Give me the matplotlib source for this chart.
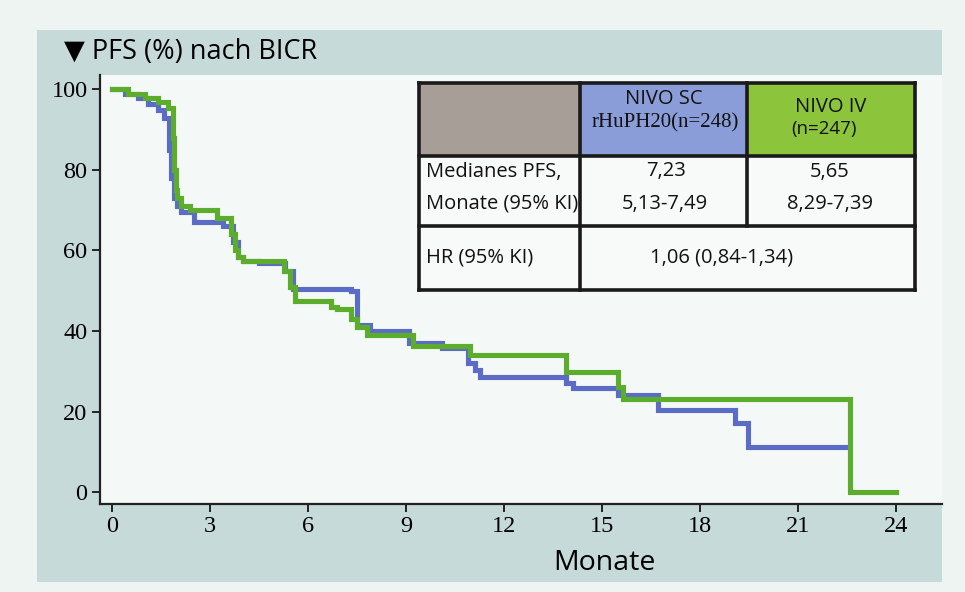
import matplotlib.pyplot as plt
from matplotlib.patches import Rectangle

# Kaplan-Meier steps (months, PFS %)
sc_t = [0, 0.4, 0.8, 1.1, 1.4, 1.6, 1.75, 1.8, 1.9, 2.0, 2.1, 2.5, 3.4, 3.7, 3.85, 4.0,
        4.5, 5.3, 5.55, 7.3, 7.5, 7.9, 9.1, 10.1, 10.9, 11.1, 11.25, 13.9, 14.1, 15.5,
        16.7, 19.07, 19.47, 22.5]
sc_s = [100, 99, 98, 96.5, 95, 93, 85, 78, 73, 71, 69.5, 67, 66, 62, 58.5, 57.5,
        57, 55, 50.5, 50, 41.5, 40, 37, 35.8, 32, 30.3, 28.5, 27, 25.8, 24,
        20.4, 17.1, 11.2, 11.2]

iv_t = [0, 0.5, 1.0, 1.4, 1.7, 1.85, 1.9, 1.95, 2.0, 2.1, 2.4, 3.2, 3.65, 3.75, 3.85, 4.0,
        5.25, 5.45, 5.6, 6.7, 6.9, 7.3, 7.5, 7.8, 9.2, 10.95, 13.9, 15.5, 15.65, 22.6, 24.0]
iv_s = [100, 99, 98, 97, 95.5, 88, 80, 75, 73, 71, 70, 68, 64, 60, 58.5, 57.5,
        55, 51, 47.5, 46, 45.5, 43, 41, 39, 36.3, 34, 29.8, 26, 23.2, 0, 0]

x_ticks = [0, 3, 6, 9, 12, 15, 18, 21, 24]
y_ticks = [0, 20, 40, 60, 80, 100]

header = ["", "NIVO SC", "NIVO IV"]
header_sub = ["", "rHuPH20(n=248)", "(n=247)"]
median = ["7,23", "5,65"]
ci = ["5,13-7,49", "8,29-7,39"]
hr_text = "1,06 (0,84-1,34)"

blue = "#5b6cc6"
green = "#5cad2c"
sans = ["Open Sans", "DejaVu Sans"]

W, H = 965, 592
fig = plt.figure(figsize=(W / 100, H / 100), dpi=100)
fig.patch.set_facecolor("#eef4f2")


def fx(px):
    return px / W


def fy(py):
    return 1 - py / H


# grey-teal panel behind the plot
fig.patches.append(Rectangle((fx(37), fy(582)), fx(942) - fx(37), fy(30) - fy(582),
                             transform=fig.transFigure, facecolor="#c7dada",
                             edgecolor="none", zorder=-5))

ax = fig.add_axes([fx(100), fy(504), fx(942) - fx(100), fy(75) - fy(504)])
ax.set_facecolor("#f4f9f8")
ax.step(sc_t, sc_s, where="post", color=blue, lw=3.7, solid_joinstyle="miter", zorder=3)
ax.step(iv_t, iv_s, where="post", color=green, lw=3.7, solid_joinstyle="miter", zorder=4)

ax.set_xlim(-0.37, 25.41)
ax.set_ylim(-2.98, 103.6)
ax.set_xticks(x_ticks)
ax.set_yticks(y_ticks)
for s in ["top", "right"]:
    ax.spines[s].set_visible(False)
for s in ["left", "bottom"]:
    ax.spines[s].set_linewidth(1.6)
    ax.spines[s].set_color("#222222")
ax.tick_params(direction="out", length=6, width=1.4, color="#222222", pad=3)
for lab in ax.get_xticklabels() + ax.get_yticklabels():
    lab.set_family("Liberation Serif")
    lab.set_fontsize(17.5)

fig.text(fx(604), fy(563), "Monate", fontsize=20.5, family=sans, ha="center", va="center")
fig.text(fx(64), fy(52), "▼ PFS (%) nach BICR", fontsize=19.5, family=sans,
         ha="left", va="center")

# table in the upper right
cols = [419, 580, 747, 915]
rows = [83, 156, 226, 290]
fills = ["#a79f97", "#8b9dd9", "#8cc43c"]
for i in range(3):
    fig.patches.append(Rectangle((fx(cols[i]), fy(rows[1])), fx(cols[i + 1]) - fx(cols[i]),
                                 fy(rows[0]) - fy(rows[1]), transform=fig.transFigure,
                                 facecolor=fills[i], edgecolor="none", zorder=5))
fig.patches.append(Rectangle((fx(cols[0]), fy(rows[3])), fx(cols[3]) - fx(cols[0]),
                             fy(rows[1]) - fy(rows[3]), transform=fig.transFigure,
                             facecolor="#f7faf9", edgecolor="none", zorder=5))
lk = dict(transform=fig.transFigure, color="#1a1a1a", lw=2.6, zorder=6, solid_capstyle="projecting")
for r in rows:
    fig.add_artist(plt.Line2D([fx(cols[0]), fx(cols[3])], [fy(r), fy(r)], **lk))
for c in [cols[0], cols[3]]:
    fig.add_artist(plt.Line2D([fx(c), fx(c)], [fy(rows[0]), fy(rows[3])], **lk))
fig.add_artist(plt.Line2D([fx(cols[1]), fx(cols[1])], [fy(rows[0]), fy(rows[3])], **lk))
fig.add_artist(plt.Line2D([fx(cols[2]), fx(cols[2])], [fy(rows[0]), fy(rows[2])], **lk))

tk = dict(family=sans, va="center", zorder=7, color="#111111")
fig.text(fx(664), fy(99), header[1], fontsize=14.5, ha="center", **tk)
fig.text(fx(665), fy(123), header_sub[1], fontsize=15, ha="center",
         family="Liberation Serif", va="center", zorder=7, color="#111111")
fig.text(fx(831), fy(107), header[2], fontsize=14.5, ha="center", **tk)
fig.text(fx(824), fy(129), header_sub[2], fontsize=13.5, ha="center", **tk)
fig.text(fx(426), fy(172), "Medianes PFS,", fontsize=14.5, ha="left", **tk)
fig.text(fx(426), fy(204), "Monate (95% KI)", fontsize=14.5, ha="left", **tk)
fig.text(fx(666), fy(171), median[0], fontsize=14.5, ha="center", **tk)
fig.text(fx(665), fy(204), ci[0], fontsize=14.5, ha="center", **tk)
fig.text(fx(830), fy(172), median[1], fontsize=14.5, ha="center", **tk)
fig.text(fx(830), fy(204), ci[1], fontsize=14.5, ha="center", **tk)
fig.text(fx(426), fy(257), "HR (95% KI)", fontsize=14.5, ha="left", **tk)
fig.text(fx(722), fy(257), hr_text, fontsize=14.5, ha="center", **tk)

fig.savefig("out.png", dpi=100, facecolor=fig.get_facecolor())
